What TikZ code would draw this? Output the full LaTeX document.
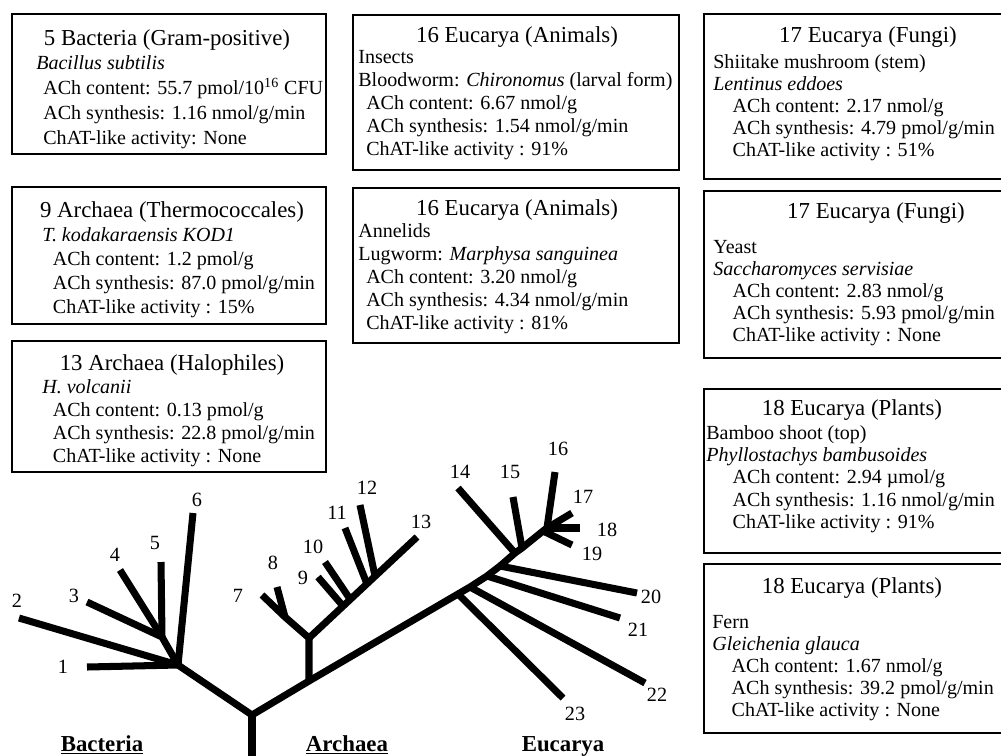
\documentclass[tikz,border=0pt]{standalone}
\usepackage{fontspec}
\setmainfont{Liberation Serif}
\usetikzlibrary{positioning}
\tikzset{
  infobox/.style={rectangle, draw=black, line width=1.3pt, anchor=north west, inner sep=0pt},
  boxtitle/.style={font=\fontsize{13}{15}\selectfont, inner sep=0pt},
  boxbody/.style={align=left, anchor=north west, inner sep=0pt},
  branch/.style={line width=4pt, line join=round, color=black},
  trunk/.style={line width=5pt, color=black},
  leafnum/.style={font=\fontsize{11.5}{13}\selectfont, inner sep=0pt},
  domainlbl/.style={font=\fontsize{13}{15}\selectfont\bfseries, inner sep=0pt, anchor=base}
}
\newcommand{\ind}[1]{\hspace*{#1}}

\begin{document}
\begin{tikzpicture}[x=0.02cm, y=-0.02cm]
  \useasboundingbox (0,0) rectangle (1001,755);

  % left column
  \node[infobox, minimum width=6.28cm, minimum height=2.80cm] (bacbox) at (11,13) {};
  \node[boxtitle] (bactitle) at (167,40) {5 Bacteria (Gram-positive)};
  \node[boxbody, font=\fontsize{11.4}{14.2}\selectfont] (bacbody) at (36,55)
    {\textit{Bacillus subtilis}\\
     \ind{4pt}ACh content: 55.7 pmol/10\textsuperscript{16} CFU\\
     \ind{4pt}ACh synthesis: 1.16 nmol/g/min\\
     \ind{4pt}ChAT-like activity: None};

  \node[infobox, minimum width=6.28cm, minimum height=2.74cm] (thermbox) at (11,186) {};
  \node[boxtitle] (thermtitle) at (172,212) {9 Archaea (Thermococcales)};
  \node[boxbody, font=\fontsize{11.4}{13.7}\selectfont] (thermbody) at (42,227)
    {\textit{T. kodakaraensis KOD1}\\
     \ind{6pt}ACh content: 1.2 pmol/g\\
     \ind{6pt}ACh synthesis: 87.0 pmol/g/min\\
     \ind{6pt}ChAT-like activity : 15\%};

  \node[infobox, minimum width=6.28cm, minimum height=2.62cm] (halobox) at (11,340) {};
  \node[boxtitle] (halotitle) at (172,365) {13 Archaea (Halophiles)};
  \node[boxbody, font=\fontsize{11.4}{13.1}\selectfont] (halobody) at (42,379)
    {\textit{H. volcanii}\\
     \ind{6pt}ACh content: 0.13 pmol/g\\
     \ind{6pt}ACh synthesis: 22.8 pmol/g/min\\
     \ind{6pt}ChAT-like activity : None};

  % middle column
  \node[infobox, minimum width=6.52cm, minimum height=3.10cm] (insectbox) at (352,14) {};
  \node[boxtitle] (insecttitle) at (517,37) {16 Eucarya (Animals)};
  \node[boxbody, font=\fontsize{11.4}{13.1}\selectfont] (insectbody) at (358,50)
    {Insects\\
     Bloodworm: \textit{Chironomus} (larval form)\\
     \ind{4.5pt}ACh content: 6.67 nmol/g\\
     \ind{4.5pt}ACh synthesis: 1.54 nmol/g/min\\
     \ind{4.5pt}ChAT-like activity : 91\%};

  \node[infobox, minimum width=6.52cm, minimum height=3.10cm] (annelbox) at (352,187) {};
  \node[boxtitle] (anneltitle) at (517,210) {16 Eucarya (Animals)};
  \node[boxbody, font=\fontsize{11.4}{13.1}\selectfont] (annelbody) at (358,223)
    {Annelids\\
     Lugworm: \textit{Marphysa sanguinea}\\
     \ind{4.5pt}ACh content: 3.20 nmol/g\\
     \ind{4.5pt}ACh synthesis: 4.34 nmol/g/min\\
     \ind{4.5pt}ChAT-like activity : 81\%};

  % right column
  \node[infobox, minimum width=6.4cm, minimum height=3.30cm] (shiibox) at (703,13) {};
  \node[boxtitle] (shiititle) at (868,37) {17 Eucarya (Fungi)};
  \node[boxbody, font=\fontsize{11.4}{12.5}\selectfont] (shiibody) at (713,54)
    {Shiitake mushroom (stem)\\
     \textit{Lentinus eddoes}\\
     \ind{11pt}ACh content: 2.17 nmol/g\\
     \ind{11pt}ACh synthesis: 4.79 pmol/g/min\\
     \ind{11pt}ChAT-like activity : 51\%};

  \node[infobox, minimum width=6.4cm, minimum height=3.34cm] (yeastbox) at (703,190) {};
  \node[boxtitle] (yeasttitle) at (876,213) {17 Eucarya (Fungi)};
  \node[boxbody, font=\fontsize{11.4}{12.5}\selectfont] (yeastbody) at (713,240)
    {Yeast\\
     \textit{Saccharomyces servisiae}\\
     \ind{11pt}ACh content: 2.83 nmol/g\\
     \ind{11pt}ACh synthesis: 5.93 pmol/g/min\\
     \ind{11pt}ChAT-like activity : None};

  \node[infobox, minimum width=6.4cm, minimum height=3.28cm] (bamboobox) at (703,388) {};
  \node[boxtitle] (bambootitle) at (852,410) {18 Eucarya (Plants)};
  \node[boxbody, font=\fontsize{11.4}{12.7}\selectfont] (bamboobody) at (706,425)
    {Bamboo shoot (top)\\
     \textit{Phyllostachys bambusoides}\\
     \ind{15pt}ACh content: 2.94 µmol/g\\
     \ind{15pt}ACh synthesis: 1.16 nmol/g/min\\
     \ind{15pt}ChAT-like activity : 91\%};

  \node[infobox, minimum width=6.4cm, minimum height=3.38cm] (fernbox) at (703,563) {};
  \node[boxtitle] (ferntitle) at (852,588) {18 Eucarya (Plants)};
  \node[boxbody, font=\fontsize{11.4}{12.5}\selectfont] (fernbody) at (712,615)
    {Fern\\
     \textit{Gleichenia glauca}\\
     \ind{11pt}ACh content: 1.67 nmol/g\\
     \ind{11pt}ACh synthesis: 39.2 pmol/g/min\\
     \ind{11pt}ChAT-like activity : None};

  % tree: junctions and tips
  \coordinate (base) at (252,760);
  \coordinate (rj) at (252,715);
  \coordinate (bj) at (178,665);
  \coordinate (bj3) at (162,637);
  \coordinate (aj0) at (309,681);
  \coordinate (aj) at (309,638);
  \coordinate (aj7) at (285,617);
  \coordinate (aj9) at (343,606);
  \coordinate (aj10) at (350,599);
  \coordinate (aj11) at (367,584);
  \coordinate (aj12) at (375,576);
  \coordinate (ej23) at (458,594);
  \coordinate (ej22) at (470,587);
  \coordinate (ej21) at (487,576);
  \coordinate (ej20) at (500,566);
  \coordinate (ej14) at (515,553);
  \coordinate (ej15) at (522,548);
  \coordinate (ej19) at (543,531);
  \coordinate (ej16) at (547,528);
  \coordinate (t1) at (87,667);   \coordinate (t2) at (19,618);
  \coordinate (t3) at (87,602);   \coordinate (t4) at (120,570);
  \coordinate (t5) at (161,562);  \coordinate (t6) at (193,513);
  \coordinate (t7) at (262,595);  \coordinate (t8) at (277,587);
  \coordinate (t9) at (318,577);  \coordinate (t10) at (325,562);
  \coordinate (t11) at (345,528); \coordinate (t12) at (360,505);
  \coordinate (t13) at (417,537); \coordinate (t14) at (458,488);
  \coordinate (t15) at (513,497); \coordinate (t16) at (555,472);
  \coordinate (t17) at (572,513); \coordinate (t18) at (580,528);
  \coordinate (t19) at (572,545); \coordinate (t20) at (637,593);
  \coordinate (t21) at (620,618); \coordinate (t22) at (645,683);
  \coordinate (t23) at (563,698);

  \draw[trunk] (base) -- (rj);
  % bacteria
  \draw[branch] (rj) -- (bj) -- (t1);
  \draw[branch] (bj) -- (t2);
  \draw[branch] (bj) -- (bj3) -- (t3);
  \draw[branch] (bj3) -- (t4);
  \draw[branch] (bj3) -- (t5);
  \draw[branch] (bj) -- (t6);
  % archaea
  \draw[branch] (rj) -- (aj0) -- (ej23) -- (ej22) -- (ej21) -- (ej20) -- (ej14) -- (ej15) -- (ej19) -- (ej16);
  \draw[branch] (aj0) -- (aj) -- (aj7) -- (t7);
  \draw[branch] (aj7) -- (t8);
  \draw[branch] (aj) -- (t13);
  \draw[branch] (aj9) -- (t9);
  \draw[branch] (aj10) -- (t10);
  \draw[branch] (aj11) -- (t11);
  \draw[branch] (aj12) -- (t12);
  % eucarya
  \draw[branch] (ej14) -- (t14);
  \draw[branch] (ej15) -- (t15);
  \draw[branch] (ej16) -- (t16);
  \draw[branch] (ej16) -- (t17);
  \draw[branch] (ej16) -- (t18);
  \draw[branch] (ej19) -- (t19);
  \draw[branch] (ej20) -- (t20);
  \draw[branch] (ej21) -- (t21);
  \draw[branch] (ej22) -- (t22);
  \draw[branch] (ej23) -- (t23);

  % leaf numbers
  \node[leafnum] (n1) at (63,667) {1};
  \node[leafnum] (n2) at (17,601) {2};
  \node[leafnum] (n3) at (74,596) {3};
  \node[leafnum] (n4) at (115,555) {4};
  \node[leafnum] (n5) at (155,543) {5};
  \node[leafnum] (n6) at (197,500) {6};
  \node[leafnum] (n7) at (238,596) {7};
  \node[leafnum] (n8) at (273,563) {8};
  \node[leafnum] (n9) at (303,578) {9};
  \node[leafnum] (n10) at (313,547) {10};
  \node[leafnum] (n11) at (337,513) {11};
  \node[leafnum] (n12) at (367,488) {12};
  \node[leafnum] (n13) at (421,522) {13};
  \node[leafnum] (n14) at (460,472) {14};
  \node[leafnum] (n15) at (510,472) {15};
  \node[leafnum] (n16) at (558,449) {16};
  \node[leafnum] (n17) at (583,497) {17};
  \node[leafnum] (n18) at (607,530) {18};
  \node[leafnum] (n19) at (592,554) {19};
  \node[leafnum] (n20) at (651,597) {20};
  \node[leafnum] (n21) at (638,630) {21};
  \node[leafnum] (n22) at (657,695) {22};
  \node[leafnum] (n23) at (575,714) {23};

  % domains
  \node[domainlbl] (bacteria) at (102,751) {\underline{Bacteria}};
  \node[domainlbl] (archaea) at (347,751) {\underline{Archaea}};
  \node[domainlbl] (eucarya) at (563,751) {Eucarya};
\end{tikzpicture}
\end{document}
